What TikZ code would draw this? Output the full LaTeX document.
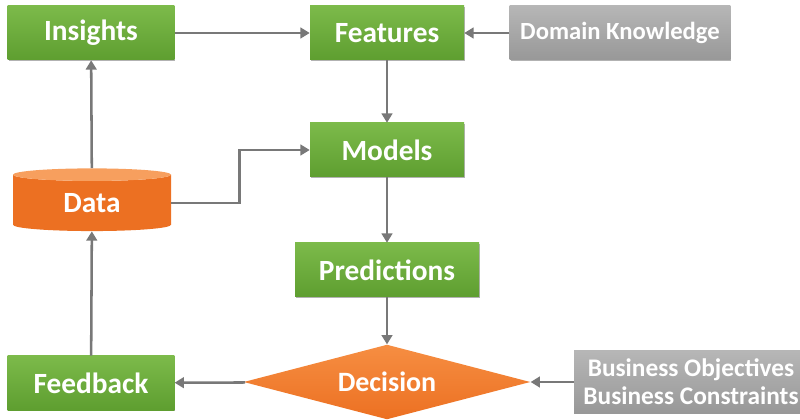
\documentclass[tikz,border=0pt]{standalone}
\usepackage{fontspec}
\setmainfont{Carlito}
\usetikzlibrary{arrows.meta,shapes.geometric,shadows}
\definecolor{stepgreentop}{RGB}{124,186,74}
\definecolor{stepgreenbot}{RGB}{94,158,48}
\definecolor{steporangetop}{RGB}{246,142,66}
\definecolor{steporangebot}{RGB}{236,112,34}
\definecolor{stepgraytop}{RGB}{182,182,182}
\definecolor{stepgraybot}{RGB}{152,152,152}
\definecolor{flowline}{RGB}{120,120,120}

\begin{document}
\begin{tikzpicture}[x=0.75pt,y=-0.75pt,
 >={Triangle[length=7pt,width=8pt]},
 flow/.style={->,draw=flowline,line width=1.9pt},
 boxshadow/.style={drop shadow={shadow xshift=.8pt,shadow yshift=-.8pt,opacity=.3,fill=black}},
 greenbox/.style={rectangle,top color=stepgreentop,bottom color=stepgreenbot,
  text=white,font=\bfseries\fontsize{22}{26}\selectfont,
  minimum height=40.5pt,inner sep=0pt,boxshadow},
 graybox/.style={rectangle,top color=stepgraytop,bottom color=stepgraybot,
  text=white,font=\bfseries\fontsize{18.5}{22}\selectfont,
  inner sep=0pt,align=center,boxshadow}]
 \useasboundingbox (0,0) rectangle (800,420);
 % boxes
 \node[greenbox,minimum width=125pt] (insights) at (91,33) {Insights};
 \node[greenbox,minimum width=115.5pt] (features) at (387,33) {Features};
 \node[graybox,minimum width=165.5pt,minimum height=40.5pt] (domain) at (620,33) {Domain Knowledge};
 \node[greenbox,minimum width=115.5pt] (models) at (387,150) {Models};
 \node[cylinder,shape border rotate=90,aspect=.22,minimum width=118.5pt,minimum height=47pt,
  inner sep=0pt,cylinder uses custom fill,cylinder body fill=steporangebot,
  cylinder end fill=steporangetop!85!white,text=white,
  font=\bfseries\fontsize{22}{26}\selectfont] (data) at (92,203) {Data};
 \node[greenbox,minimum width=138pt] (predictions) at (387,270) {Predictions};
 \node[diamond,aspect=3.83,minimum width=215pt,minimum height=56pt,inner sep=0pt,
  top color=steporangetop,bottom color=steporangebot,text=white,
  font=\bfseries\fontsize{21}{25}\selectfont] (decision) at (387,382) {Decision};
 \node[greenbox,minimum width=125pt] (feedback) at (91,383) {Feedback};
 \node[graybox,minimum width=175.5pt,minimum height=46.5pt,
  font=\bfseries\fontsize{19}{21}\selectfont] (business) at (691,382)
  {Business Objectives\\Business Constraints};
 % connectors
 \draw[flow] (insights) -- (features);
 \draw[flow] (domain) -- (features);
 \draw[flow] (features) -- (models);
 \draw[flow] (data.east) -- ++(68,0) |- (models.west);
 \draw[flow] (models) -- (predictions);
 \draw[flow] (predictions) -- (decision);
 \draw[flow] (business) -- (decision);
 \draw[flow] (decision) -- (feedback);
 \draw[flow] (feedback) -- (data);
 \draw[flow] (data) -- (insights);
\end{tikzpicture}
\end{document}
